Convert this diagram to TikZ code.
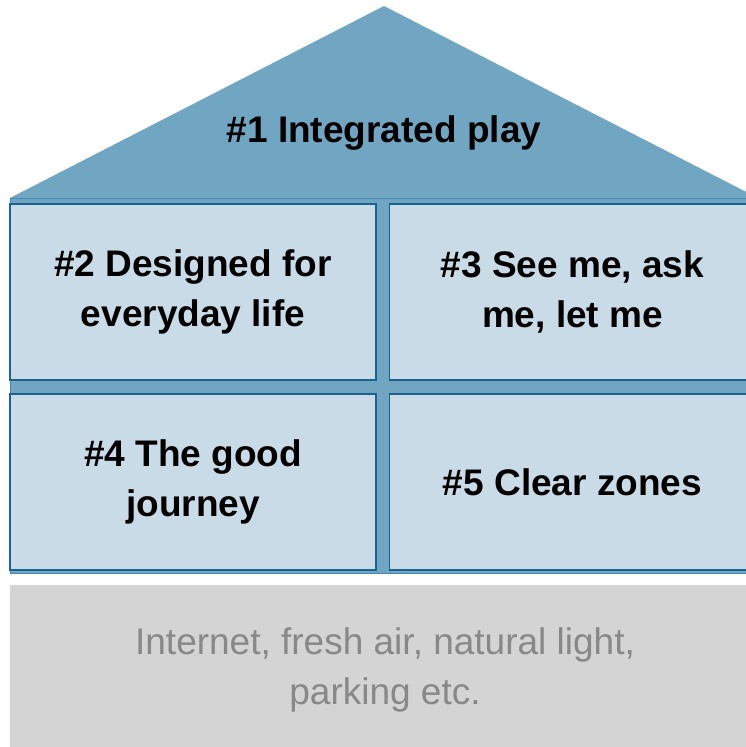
\documentclass[tikz,border=0pt]{standalone}
\usepackage{fontspec}
\setmainfont{Liberation Sans}
\usetikzlibrary{positioning}

\definecolor{roofblue}{RGB}{113,166,194}
\definecolor{roofedge}{RGB}{70,135,175}
\definecolor{roomfill}{RGB}{200,219,230}
\definecolor{roomline}{RGB}{26,98,143}
\definecolor{groundgrey}{RGB}{212,212,212}
\definecolor{groundtext}{RGB}{136,136,136}

\tikzset{
  room/.style={draw=roomline,line width=1.5pt,fill=roomfill,
    minimum width=366pt,minimum height=176pt,inner sep=0pt,align=center,
    font=\fontsize{37}{50}\selectfont\bfseries},
}

\begin{document}
\begin{tikzpicture}[x=1pt,y=-1pt]
  \useasboundingbox (0,0) rectangle (746,747);
  % roof and walls
  \fill[roofblue] (10,198) -- (384,6) -- (758,198) -- cycle;
  \draw[fill=roofblue,draw=roofedge,line width=0.8pt] (10,198) rectangle (760,573);
  \node[font=\fontsize{37}{50}\selectfont\bfseries] (play) at (384,133) {\#1 Integrated play};
  % rooms
  \node[room] (design) at (193,292) {\#2 Designed for\\everyday life};
  \node[room] (seeme) at (572.5,292) {\#3 See me, ask\\me, let me};
  \node[room] (journey) at (193,482) {\#4 The good\\journey};
  \node[room] (zones) at (572.5,482) {\#5 Clear zones};
  % ground
  \fill[groundgrey] (10,585) rectangle (760,750);
  \node[align=center,text=groundtext,font=\fontsize{37}{50}\selectfont] (basics) at (385,670)
    {Internet, fresh air, natural light,\\parking etc.};
\end{tikzpicture}
\end{document}
